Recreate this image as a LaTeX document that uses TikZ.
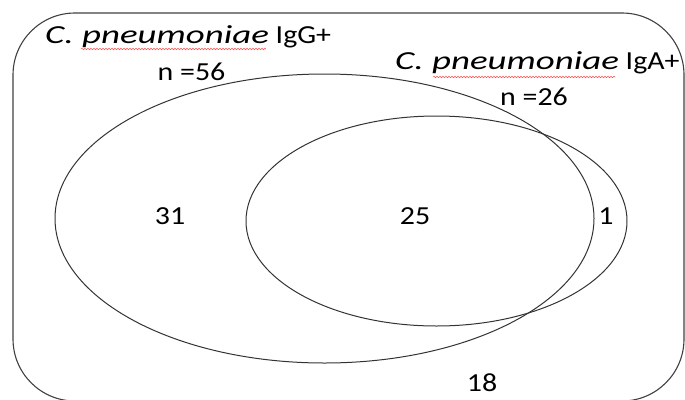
\documentclass[tikz,border=0pt]{standalone}
\usepackage{fontspec}
\setmainfont{Carlito}[FakeStretch=1.15, ItalicFeatures={FakeStretch=1.42}]
\usetikzlibrary{shapes.geometric,decorations.pathmorphing}
\tikzset{
  frame/.style={draw=black!75, line width=1.1pt, rounded corners=62pt},
  setellipse/.style={ellipse, draw=black!80, line width=1pt, inner sep=0pt},
  lbl/.style={inner sep=0pt, font=\fontsize{26}{30}\selectfont, text=black},
  squig/.style={draw=red!70, line width=0.5pt, decorate,
    decoration={snake, segment length=3pt, amplitude=0.7pt}}
}
\begin{document}
\begin{tikzpicture}[x=1pt,y=-1pt]
\useasboundingbox (0,0) rectangle (685,399);
\draw[frame] (13,13) rectangle (684,401);
\node[setellipse, minimum width=539pt, minimum height=289pt] (igg) at (324.5,218.5) {};
\node[setellipse, minimum width=381pt, minimum height=210pt] (iga) at (436.5,221) {};
\node[lbl, anchor=west] (gtitle) at (45,37) {\textit{C. pneumoniae} IgG+};
\node[lbl] (gn) at (191.5,72) {n =56};
\node[lbl, anchor=west] (atitle) at (395,63) {\textit{C. pneumoniae} IgA+};
\node[lbl] (an) at (534,97) {n =26};
\node[lbl] (v31) at (170,216) {31};
\node[lbl] (v25) at (415,216) {25};
\node[lbl] (v1) at (606,216) {1};
\node[lbl] (v18) at (482,383) {18};
\draw[squig] (81,49) -- (266,49);
\draw[squig] (433,77) -- (615,77);
\end{tikzpicture}
\end{document}
